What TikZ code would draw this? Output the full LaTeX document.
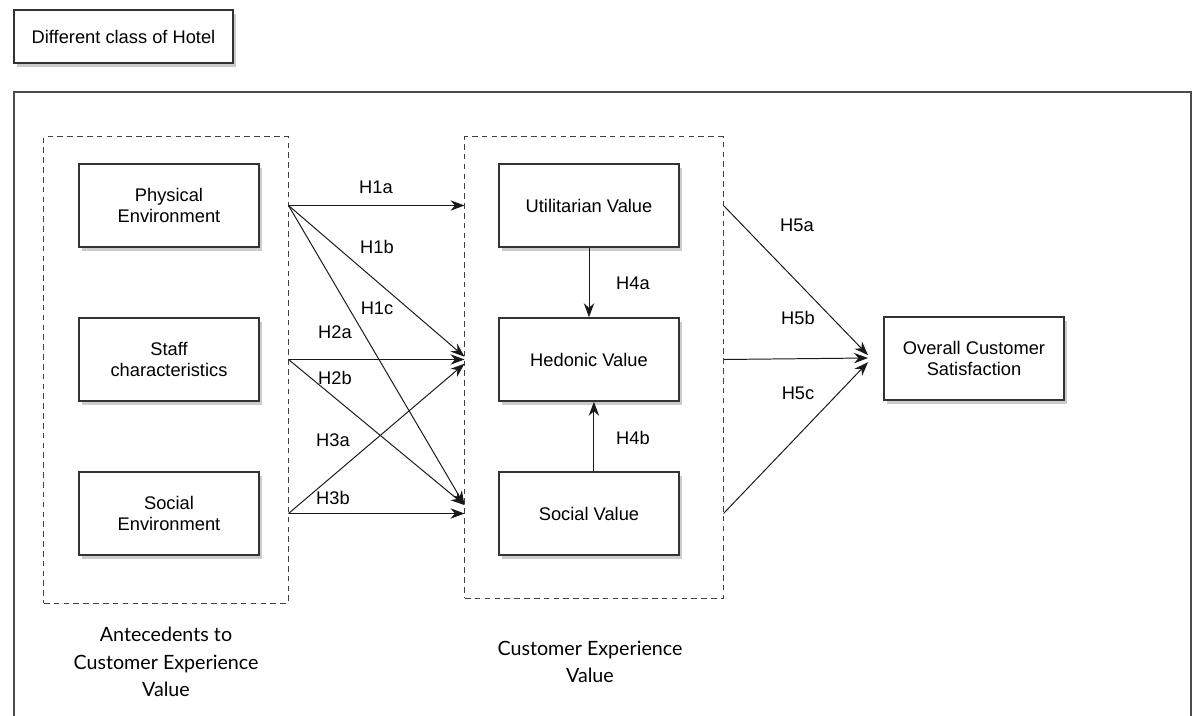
\documentclass[tikz,border=0pt]{standalone}
\usepackage{fontspec}
\setmainfont{Liberation Sans}
\newfontfamily\capfont{Lato}
\usetikzlibrary{arrows.meta,shadows}

\begin{document}
\begin{tikzpicture}[x=0.025cm,y=-0.025cm,line width=0.7pt,
    font=\fontsize{13}{15}\selectfont,
    box/.style={draw=black!80,line width=1.1pt,fill=white,align=center,
      minimum width=4.5cm,minimum height=2.075cm,
      drop shadow={shadow xshift=0.7mm,shadow yshift=-1mm,opacity=0.4}},
    group/.style={draw=black!75,dash pattern=on 4pt off 3pt,line width=0.7pt,
      minimum width=#1},
    hyp/.style={-{Stealth[length=3.5mm,width=2.6mm]},draw=black!90}]
    \useasboundingbox (0,0) rectangle (1197,716);
    % outer frame, open at the bottom
    \draw [black!70,line width=1.3pt] (14,716) -- (14,92) -- (1191,92) -- (1191,716);
    \node (hotel) [box,minimum width=5.475cm,minimum height=1.325cm] at (123.5,36.5) {Different class of Hotel};

    % the two groups
    \node (ante) [group=6.1cm,minimum height=11.65cm] at (166,370) {};
    \node (cev) [group=6.45cm,minimum height=11.525cm] at (594,367.5) {};

    \node (phys) [box] at (169,205.5) {Physical\\Environment};
    \node (staff) [box] at (169,359.5) {Staff\\characteristics};
    \node (socenv) [box] at (169,513.5) {Social\\Environment};
    \node (util) [box] at (589,205.5) {Utilitarian Value};
    \node (hed) [box] at (589,359.5) {Hedonic Value};
    \node (socval) [box] at (589,513.5) {Social Value};
    \node (ocs) [box] at (974,358.5) {Overall Customer\\Satisfaction};

    \coordinate (phys out) at (ante.east |- phys);
    \coordinate (staff out) at (ante.east |- staff);
    \coordinate (socenv out) at (ante.east |- socenv);
    \coordinate (util in) at (cev.west |- util);
    \coordinate (hed in) at (cev.west |- hed);
    \coordinate (socval in) at (cev.west |- socval);
    \coordinate (util out) at (cev.east |- util);
    \coordinate (hed out) at (cev.east |- hed);
    \coordinate (socval out) at (cev.east |- socval);
    \coordinate (ocs in) at (868,358);

    \draw [hyp] (phys out) -- (util in);
    \draw [hyp] (phys out) -- ([yshift=2pt]hed in);
    \draw [hyp] (phys out) -- ([yshift=6pt]socval in);
    \draw [hyp] (staff out) -- (hed in);
    \draw [hyp] (staff out) -- ([yshift=6pt]socval in);
    \draw [hyp] (socenv out) -- ([yshift=-3pt]hed in);
    \draw [hyp] (socenv out) -- (socval in);
    \draw [hyp] (util.south) -- (hed.north);
    \draw [hyp] ([xshift=3.5pt]socval.north) -- ([xshift=3.5pt]hed.south);
    \draw [hyp] (util out) -- ([yshift=2pt]ocs in);
    \draw [hyp] (hed out) -- (ocs in);
    \draw [hyp] (socval out) -- ([yshift=-3pt]ocs in);

    \node (h1a) at (376,187) {H1a};
    \node (h1b) at (377,247) {H1b};
    \node (h1c) at (377,308) {H1c};
    \node (h2a) at (335,332) {H2a};
    \node (h2b) at (335,378) {H2b};
    \node (h3a) at (333,440) {H3a};
    \node (h3b) at (333,498) {H3b};
    \node (h4a) at (633,283) {H4a};
    \node (h4b) at (633,438) {H4b};
    \node (h5a) at (797,225) {H5a};
    \node (h5b) at (798,318) {H5b};
    \node (h5c) at (798,393) {H5c};

    \node (antecap) [font=\capfont\fontsize{14}{19.5}\selectfont,align=center] at (166,662) {Antecedents to\\Customer Experience\\Value};
    \node (cevcap) [font=\capfont\fontsize{14}{19.5}\selectfont,align=center] at (590,662) {Customer Experience\\Value};
\end{tikzpicture}
\end{document}
